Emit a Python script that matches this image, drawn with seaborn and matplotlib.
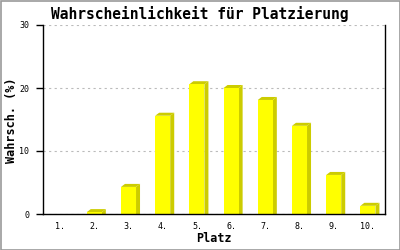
import matplotlib
matplotlib.use("Agg")
import matplotlib.pyplot as plt
import seaborn as sns
from matplotlib.patches import Polygon, Rectangle

places = ["1.", "2.", "3.", "4.", "5.", "6.", "7.", "8.", "9.", "10."]
probs = [0.0, 0.3, 4.3, 15.6, 20.6, 20.0, 18.1, 14.0, 6.2, 1.3]
yticks = [0, 10, 20, 30]
title = "Wahrscheinlichkeit für Platzierung"
xlabel = "Platz"
ylabel = "Wahrsch. (%)"

FRONT = "#FFFF00"
SIDE = "#CCCC00"
MONO = ["DejaVu Sans Mono"]

sns.set_style("white")
plt.rcParams["font.family"] = MONO
plt.rcParams["text.color"] = "black"

fig = plt.figure(figsize=(4, 2.5), dpi=100)
ax = fig.add_axes([43 / 400, 36 / 250, 342 / 400, 189 / 250])

sns.barplot(x=places, y=probs, color=FRONT, saturation=1, width=0.44,
            ax=ax, zorder=3, linewidth=0)

ax.set_ylim(0, 30)
ax.set_xlim(-0.5, len(places) - 0.5)

# 3D depth derived from the bars drawn by seaborn
px_per_cat = 342 / len(places)
px_per_val = 189 / 30
dx = 4 / px_per_cat
dy = 3 / px_per_val
for p in ax.patches:
    x0 = p.get_x()
    x1 = x0 + p.get_width()
    h = p.get_height()
    if h <= 0:
        continue
    side = Polygon([(x1, 0), (x1 + dx, 0), (x1 + dx, h + dy), (x1, h)],
                   closed=True, facecolor=SIDE, edgecolor="none", zorder=2)
    top = Polygon([(x0, h), (x0 + dx, h + dy), (x1 + dx, h + dy), (x1, h)],
                  closed=True, facecolor=SIDE, edgecolor="none", zorder=2)
    ax.add_patch(side)
    ax.add_patch(top)

ax.set_yticks(yticks)
ax.set_yticklabels([str(v) for v in yticks])
ax.yaxis.grid(True, color="#BBBBBB", linestyle=(0, (2, 3)), linewidth=0.8, zorder=0)
ax.xaxis.grid(False)

for s in ["left", "bottom", "right"]:
    ax.spines[s].set_visible(True)
    ax.spines[s].set_color("black")
    ax.spines[s].set_linewidth(1.0)
    ax.spines[s].set_zorder(5)
ax.spines["top"].set_visible(False)

ax.tick_params(axis="x", length=0, pad=6, labelsize=6, colors="black")
ax.tick_params(axis="y", length=5, width=1, pad=5, labelsize=6, colors="black",
               direction="out", left=True)

ax.set_xlabel("")
ax.set_ylabel("")
fig.text(214 / 400, 1 - 239 / 250, xlabel, ha="center", va="center",
         fontsize=8.5, fontweight="bold", color="black")
fig.text(12 / 400, 1 - 120 / 250, ylabel, ha="center", va="center",
         rotation=90, fontsize=8.5, fontweight="bold", color="black")

fig.text(0.5, 1 - 14 / 250, title, ha="center", va="center",
         fontsize=10.5, fontweight="bold", color="black")

fig.add_artist(Rectangle((0.5 / 400, 0.5 / 250), 399 / 400, 249 / 250,
                         transform=fig.transFigure, fill=False,
                         edgecolor="#999999", linewidth=1.2))

fig.savefig("out.png", dpi=100)
